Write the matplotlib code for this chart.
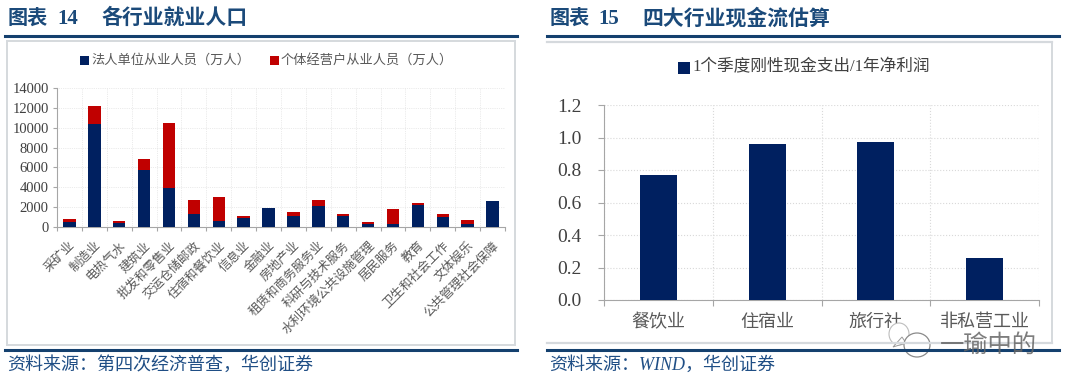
import matplotlib
matplotlib.use("Agg")
import matplotlib.pyplot as plt
from matplotlib.patches import Rectangle, Ellipse, Polygon
from matplotlib.lines import Line2D

W, H = 1080, 387
SERIF = ['Liberation Serif', 'Noto Sans CJK SC', 'DejaVu Sans']
plt.rcParams['font.family'] = SERIF

industries = ['采矿业', '制造业', '电热气水', '建筑业', '批发和零售业', '交运仓储邮政', '住宿和餐饮业',
              '信息业', '金融业', '房地产业', '租赁和商务服务业', '科研与技术服务', '水利环境公共设施管理',
              '居民服务', '教育', '卫生和社会工作', '文体娱乐', '公共管理社会保障']
legal_staff = [550, 10350, 380, 5700, 3950, 1320, 600, 880, 1930, 1150, 2150, 1100, 270, 330, 2180, 1020, 330, 2570]
self_employed = [250, 1850, 270, 1100, 6550, 1380, 2450, 270, 0, 350, 550, 250, 250, 1520, 240, 330, 390, 0]
left_ticks = [0, 2000, 4000, 6000, 8000, 10000, 12000, 14000]
sectors = ['餐饮业', '住宿业', '旅行社', '非私营工业']
cash_ratio = [0.77, 0.96, 0.97, 0.26]
right_ticks = [0.0, 0.2, 0.4, 0.6, 0.8, 1.0, 1.2]

NAVY = '#002060'; RED = '#C00000'; GREY = '#595959'; TITLE = '#1B4A7A'; RULE = '#14406E'
FRAME = '#D5D9DD'

fig = plt.figure(figsize=(W / 100, H / 100), dpi=100, facecolor='white')

def axbox(x0, y0, x1, y1):
    return fig.add_axes([x0 / W, 1 - y1 / H, (x1 - x0) / W, (y1 - y0) / H])

def ftext(x, y, s, **kw):
    fig.text(x / W, 1 - y / H, s, **kw)

def hline(x0, x1, y, lw=2.2, c=RULE):
    fig.add_artist(Line2D([x0 / W, x1 / W], [1 - y / H] * 2, color=c, lw=lw))

def vline(x, y0, y1, lw=1.4, c=FRAME):
    fig.add_artist(Line2D([x / W, x / W], [1 - y0 / H, 1 - y1 / H], color=c, lw=lw))

# headers and footers
for x0, x1, num_x, head_x, num, head, src in [
        (5, 517, 57, 101, '14', '各行业就业人口', '资料来源：第四次经济普查，华创证券'),
        (547, 1059, 598, 642, '15', '四大行业现金流估算', '资料来源：WIND，华创证券')]:
    ftext(x0 + 3, 19, '图表', fontsize=14.5, fontweight='bold', color=TITLE, va='center')
    ftext(num_x, 19, num, fontsize=15, fontweight='bold', color=TITLE, va='center')
    ftext(head_x, 19, head, fontsize=15, fontweight='bold', color=TITLE, va='center')
    hline(x0, x1, 36)
    hline(x0, x1, 350)
    ftext(x0 + 2, 365, src, fontsize=13, color='#1F4E85', va='center', style='italic')

# chart frames
hline(7, 515, 41, lw=1.4, c=FRAME)
hline(7, 515, 345, lw=1.4, c=FRAME)
vline(7, 41, 345)
vline(515, 41, 345)
hline(547, 1052, 42, lw=1.6, c=FRAME)
hline(547, 1052, 343, lw=1.6, c=FRAME)
vline(1052, 42, 343)

# left chart
ax = axbox(57, 88, 505, 227)
x = range(len(industries))
ax.bar(x, legal_staff, width=0.5, color=NAVY, zorder=3)
ax.bar(x, self_employed, width=0.5, bottom=legal_staff, color=RED, zorder=3)
ax.set_xlim(-0.5, len(industries) - 0.5)
ax.set_ylim(0, 14000)
ax.set_yticks(left_ticks)
ax.set_xticks([i - 0.5 for i in range(len(industries) + 1)], minor=False)
ax.set_xticklabels([])
ax.set_xticks(list(x), minor=True)
ax.set_xticklabels(industries, minor=True, rotation=45, ha='right', va='top',
                   rotation_mode='anchor', fontsize=9, color=GREY)
ax.tick_params(axis='x', which='minor', length=0, pad=9)
ax.tick_params(axis='x', which='major', length=3, color='#A6A6A6', width=0.8)
ax.tick_params(axis='y', length=3, color='#A6A6A6', width=0.8, labelsize=10.5, labelcolor='#404040', pad=3)
ax.grid(True, which='major', ls=':', lw=0.5, color='#D9D9D9', zorder=0)
for s in ['top', 'right']:
    ax.spines[s].set_visible(False)
for s in ['left', 'bottom']:
    ax.spines[s].set_color('#A6A6A6')

for hx, c, lab in [(80, NAVY, '法人单位从业人员（万人）'), (270, RED, '个体经营户从业人员（万人）')]:
    fig.add_artist(Rectangle((hx / W, 1 - 65 / H), 9 / W, 9 / H, fc=c, ec='none', transform=fig.transFigure))
    ftext(hx + 11, 60, lab, fontsize=9.5, color=GREY, va='center')

# right chart
ax2 = axbox(604, 105, 1039, 300)
xr = range(len(sectors))
ax2.bar(xr, cash_ratio, width=0.34, color=NAVY, zorder=3)
ax2.set_xlim(-0.5, len(sectors) - 0.5)
ax2.set_ylim(0, 1.2)
ax2.set_yticks(right_ticks)
ax2.set_yticklabels([f'{t:.1f}' for t in right_ticks])
ax2.set_xticks([i - 0.5 for i in range(len(sectors) + 1)])
ax2.set_xticklabels([])
ax2.set_xticks(list(xr), minor=True)
ax2.set_xticklabels(sectors, minor=True, fontsize=13, color=GREY)
ax2.tick_params(axis='x', which='minor', length=0, pad=10)
ax2.tick_params(axis='x', which='major', length=4, color='#A6A6A6', width=0.8)
ax2.tick_params(axis='y', length=4, color='#A6A6A6', width=0.8, labelsize=14, labelcolor='#404040', pad=12)
ax2.grid(True, which='major', ls=':', lw=0.8, color='#D9D9D9', zorder=0)
for s in ['top', 'right']:
    ax2.spines[s].set_visible(False)
for s in ['left', 'bottom']:
    ax2.spines[s].set_color('#A6A6A6')

fig.add_artist(Rectangle((678 / W, 1 - 74 / H), 12 / W, 12 / H, fc=NAVY, ec='none', transform=fig.transFigure))
ftext(692, 67, '1个季度刚性现金支出/1年净利润', fontsize=12, color='#404040', va='center')

# watermark
fig.add_artist(Ellipse((899 / W, 1 - 334 / H), 20 / W, 22 / H, fc='white', ec='#BDBDBD', lw=0.8,
                       transform=fig.transFigure))
fig.add_artist(Polygon([(893 / W, 1 - 347 / H), (906 / W, 1 - 343 / H), (902 / W, 1 - 337 / H)],
                       closed=True, fc='white', ec='#9A9A9A', lw=0.7, transform=fig.transFigure))
fig.add_artist(Ellipse((917 / W, 1 - 345 / H), 26 / W, 24 / H, fc='white', ec='#8A8A8A', lw=0.9,
                       transform=fig.transFigure))
ftext(940, 345, '一瑜中的', fontsize=17.5, color='#666666', va='center', alpha=0.85,
      family=['Noto Sans CJK SC'])

fig.savefig('out.png', dpi=100, facecolor='white')
